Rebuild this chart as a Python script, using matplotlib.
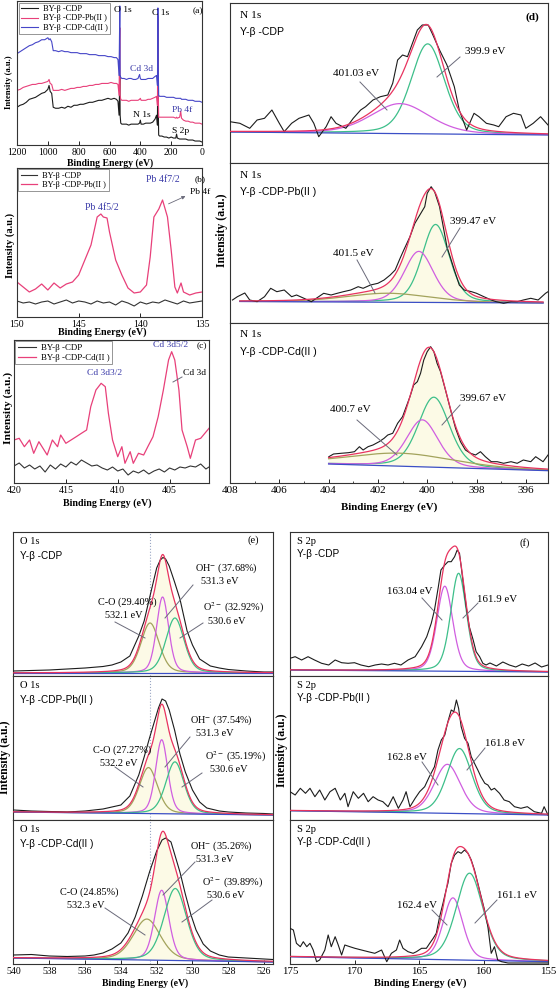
import numpy as np
import matplotlib
matplotlib.use('Agg')
import matplotlib.pyplot as plt
from matplotlib.lines import Line2D

plt.rcParams['font.family'] = ['Liberation Serif', 'DejaVu Serif']
plt.rcParams['mathtext.fontset'] = 'stix'

# ------------------------------------------------------------------ data
# (a) survey spectra
surv_E = [1200,1180,1160,1140,1120,1100,1080,1060,1040,1020,1000,992,985,975,965,
          950,930,910,890,870,850,830,810,790,770,750,730,710,690,670,650,630,610,590,570,
          555,545,538,533,531,527,520,505,490,475,460,445,430,415,405,400,395,
          380,365,350,335,320,305,295,289,286,284,281,275,260,245,230,215,200,185,170,
          165,160,145,138,133,120,105,90,75,60,45,30,15,0]
surv_cdp = [38,40,41,43,46,47,48,50,52,53,56,60,54,52,38,
            37,37,38,37,39,38,40,40,41,41,42,43,43,44,45,45,46,47,46,47,
            46,44,30,70,30,22,21,21,21,20,21,21,21,21,22,25,21,
            21,22,22,22,23,26,30,20,125,40,10,9,9,8,8,7,8,7,7,
            11,7,6,6,6,6,6,5,5,5,4,4,4,3]
surv_pb = [55,56,58,59,60,61,61,62,62,63,64,66,62,61,55,
           55,55,56,55,56,57,57,58,58,59,59,60,60,61,61,62,62,62,63,62,
           62,61,50,118,50,46,45,45,45,44,45,45,45,45,46,47,45,
           45,45,46,46,47,48,49,40,130,55,28,28,28,28,28,28,28,28,27,
           28,27,28,34,27,25,24,24,23,23,22,22,22,21]
surv_cd = [92,94,96,98,100,101,103,104,106,106,108,106,107,104,95,
           95,94,95,94,94,93,93,93,92,92,92,91,91,91,90,90,90,89,89,88,
           88,86,70,140,70,68,67,67,66,67,67,66,66,67,71,67,66,
           66,66,67,67,67,69,70,60,138,80,50,49,49,49,48,48,48,48,47,
           47,47,47,47,46,46,46,45,45,45,44,44,44,43]
surv_labels = ['BY-β -CDP', 'BY-β -CDP-Pb(II )', 'BY-β -CDP-Cd(II )']

# (b) Pb 4f
pb_ref_E = [150,149.5,149,148.5,148,147.5,147,146.5,146,145.5,145,144.5,144,143.5,143,142.5,
            142,141.5,141,140.5,140,139.5,139,138.5,138,137.5,137,136.5,136,135.5,135]
pb_ref_I = [16,14,15,13,15,16,13,15,17,14,16,15,13,16,14,15,12,16,14,11,15,13,15,14,17,15,13,16,14,15,16]
pb_E = [150,149.5,149,148.5,148,147.5,147,146.5,146,145.5,145,144.5,144,143.5,143.2,143.0,142.7,
        142.5,142,141.5,141,140.5,140,139.5,139.2,138.9,138.7,138.5,138.2,137.8,137.5,137.2,137,
        136.7,136.5,136,135.5,135]
pb_I = [35,30,25,28,33,27,34,29,33,35,42,57,72,100,103,100,99,85,57,42,29,24,25,32,60,100,104,108,
        117,100,67,30,24,34,25,22,24,25]

# (c) Cd 3d
cd_ref_E = [420,419.5,419,418.5,418,417.5,417,416.5,416,415.5,415,414.5,414,413.5,413,412.5,412,
            411.5,411,410.5,410,409.5,409,408.5,408,407.5,407,406.5,406,405.5,405,404.5,404,
            403.5,403,402.5,402,401.5,401.2]
cd_ref_I = [17,20,15,18,14,17,11,18,14,19,16,21,18,23,20,17,18,15,13,16,12,14,8,12,10,13,9,12,
            14,11,15,13,16,15,17,16,19,14,16]
cd_E = [420.0,419.5,419.0,418.5,418.1,417.6,417.1,416.8,416.3,415.8,415.5,415.0,414.5,414.0,413.5,
        413.0,412.6,412.1,411.6,411.2,410.9,410.5,410.0,409.6,409.3,408.8,408.5,408.0,407.5,407.1,
        406.6,406.1,405.6,405.1,404.8,404.5,404.1,403.8,403.3,403.0,402.5,402.0,401.6,401.2]
cd_I = [43,44.7,36.3,43,29.7,41.3,33,28,43,36.3,48,39.7,43,46.3,49.7,53,76.3,93,99.7,96.3,69.7,
        43,26.3,36.3,19.7,31.3,19.7,29.7,28,36.3,46.3,66.3,93,123,131.3,123,93,53,36.3,24.7,43,
        44.7,49.7,54.7]

# (d) N 1s raw spectra
n1_E = [408.0,407.6,407.2,406.9,406.6,406.3,406.0,405.8,405.5,405.2,404.8,404.6,404.4,404.1,403.9,
        403.7,403.3,403.0,402.7,402.5,402.2,401.9,401.6,401.4,401.2,401.0,400.8,400.6,400.4,400.2,
        399.96,399.8,399.5,399.2,398.9,398.7,398.4,398.1,397.9,397.6,397.3,397.1,396.8,396.5,396.2,
        396.0,395.7,395.4,395.1]
n1_I = [41.3,39.7,34.7,43,44.7,53,39.7,31.3,39.7,44.7,48,39.7,26.3,36.3,46.3,39.7,34.7,44.7,53,
        56.3,63,66.3,68,79.7,103,108,106.3,119.7,133,138,138,129.7,113,98,76.3,53,33,49.7,46.3,
        39.7,38,36.3,46.3,49.7,48,34.7,39.7,46.3,38]
n2_E = [407.9,407.7,407.4,407.2,406.9,406.6,406.35,406.1,405.8,405.5,405.3,405.0,404.7,404.5,404.2,
        403.9,403.65,403.4,403.1,402.8,402.6,402.3,402.0,401.75,401.5,401.3,401.1,400.95,400.7,
        400.5,400.3,400.1,400.0,399.84,399.7,399.5,399.4,399.2,398.9,398.7,398.5,398.2,398.0,397.7,
        397.4,397.2,396.9,396.6,396.35,396.1,395.8,395.5,395.2,395.1]
n2_I = [23,26.3,30,23,21.3,26.3,34.7,31.3,33,26.3,28,24.7,21.3,24.7,29.7,28,29.7,31.3,33,36.3,34.7,
        38,39.7,43,48,53,64.7,73,86.3,99.7,108,116.3,129.7,136.3,131.3,116.3,103,76.3,53,38,33,
        31.3,29.7,26.3,23,21.3,19.7,21.3,21.3,23,24.7,23,29.7,31.3]
n3_E = [403.99,403.8,403.5,403.2,402.95,402.75,402.6,402.4,402.2,401.95,401.75,401.6,401.4,401.2,
        401.0,400.9,400.7,400.55,400.4,400.27,400.14,400.0,399.86,399.73,399.6,399.46,399.26,399.05,
        398.85,398.65,398.45,398.24,398.04,397.84,397.64,397.4,397.16,396.9,396.6,396.35,396.1,
        395.8,395.6,395.3,395.1]
n3_I = [26.3,29,29.7,30.3,31.3,36.3,33,36.3,38,41.3,44.7,48,49.7,59.7,66.3,73,86.3,98,101.3,109.7,
        123,131.3,136.3,131.3,119.7,111.3,93,73,54.7,41.3,33,29.7,28,31.3,26.3,21.3,21.3,19.7,
        21.3,19.7,23,21.3,26.3,21.3,28]
n_raw = [(n1_E, n1_I), (n2_E, n2_I), (n3_E, n3_I)]
n_titles = ['Y-β -CDP', 'Y-β -CDP-Pb(II )', 'Y-β -CDP-Cd(II )']
# fitted components: linear background end points, peak centre / height / FWHM
n_base_E = [[408.0, 395.1], [407.6, 395.3], [404.0, 395.07]]
n_base_I = [[31.0, 28.0], [21.5, 20.0], [19.0, 12.3]]
n_centre = [[399.98, 401.1], [399.66, 400.34, 401.6], [399.73, 400.2, 401.1]]
n_height = [[90, 30], [78, 51, 9], [70, 47, 13]]
n_fwhm = [[1.6, 2.8], [1.3, 1.4, 4.0], [1.5, 1.5, 5.0]]
n_peak_labels = [['399.9 eV', '401.03 eV'], ['399.47 eV', '401.5 eV'], ['399.67 eV', '400.7 eV']]

# (e) O 1s raw spectra
o1_E = [540,539,538,537,536,535,534.5,534,533.5,533,532.7,532.4,532.0,531.8,531.65,531.5,531.3,
        531.0,530.7,530.3,530.0,529.6,529.0,528.5,528.0,527.0,526.0,525.5]
o1_I = [5,5.5,6,7,8,9.5,11,14,20,40,55,78,108,116,118.5,117,110,94,77,45,31,17,10,8,6.5,5,4,4]
o2_E = [540,539,538,537,536,535,534.5,534,533.5,533,532.7,532.4,532.1,531.9,531.7,531.5,531.3,
        531.0,530.7,530.4,530.0,529.6,529.2,528.5,528.0,527.0,526.0,525.5]
o2_I = [10,9,8.5,8,9,11,13,15,24,45,63,82,100,112,121,119,110,90,66,48,30,18,12,9,8,7,6.5,6]
o3_E = [540,539,538,537,536,535.5,535,534.5,534,533.6,533.2,532.8,532.4,532.0,531.7,531.5,531.2,
        531.0,530.7,530.4,530.1,529.8,529.4,529.0,528.5,528.0,527.0,526.0,525.5]
o3_I = [9,9.5,8,7.5,8,9,11,15,21,31,47,68,92,113,124,126,122,110,92,70,50,34,20,13,9,7,6,5,4.5]
o_raw = [(o1_E, o1_I), (o2_E, o2_I), (o3_E, o3_I)]
o_titles = ['Y-β -CDP', 'Y-β -CDP-Pb(II )', 'Y-β -CDP-Cd(II )']
o_base_E = [[540, 525.5], [540, 525.5], [540, 525.5]]
o_base_I = [[3.0, 3.0], [8.0, 5.0], [6.0, 2.0]]
# order: C-O, OH-, O2-
o_centre = [[532.37, 531.67, 530.98], [532.46, 531.72, 530.98], [532.55, 531.72, 530.96]]
o_height = [[50, 76, 55], [46, 74, 52], [41, 70, 72]]
o_fwhm = [[1.2, 0.8, 1.2], [1.2, 0.8, 1.2], [1.8, 0.95, 1.5]]
o_pct = [['29.40%', '37.68%', '32.92%'], ['27.27%', '37.54%', '35.19%'], ['24.85%', '35.26%', '39.89%']]
o_ev = [['532.1 eV', '531.3 eV', '530.6 eV'], ['532.2 eV', '531.3 eV', '530.6 eV'],
        ['532.3 eV', '531.3 eV', '530.6 eV']]
o_marker = 532.35

# (f) S 2p raw spectra
s1_E = [175.0,174.6,174.1,173.6,173.1,172.55,172.0,171.5,171.0,170.5,170.0,169.5,168.9,168.4,
        167.9,167.4,166.9,166.4,165.85,165.3,164.8,164.4,164.05,163.8,163.5,163.3,163.0,162.75,
        162.5,162.24,162.04,161.86,161.6,161.34,161.1,160.8,160.57,160.3,160.05,159.8,159.5,159.0,
        158.5,158.0,157.5,157.0,156.5,156.0,155.5,155.0]
s1_I = [17.7,19.3,16,19.3,16,12.7,11,16,13.3,12.7,13.3,11,9.3,11,12,11,12.7,11,16,19.3,29.3,39.3,
        52.7,66,89.3,106,111,114.3,114.3,119.3,126,122.7,96,69.3,49.3,36,24.3,19.3,12.7,11,13,10,
        14,11,9,12,10,13,9,11]
s2_E = [175.0,174.6,174.2,173.8,173.45,173.07,172.7,172.3,171.9,171.5,171.1,170.75,170.5,170.1,
        169.7,169.3,168.94,168.56,168.17,167.8,167.4,167.0,166.6,166.24,166.0,165.7,165.3,164.95,
        164.56,164.2,163.8,163.53,163.27,163.0,162.76,162.5,162.3,162.1,161.93,161.73,161.47,
        161.2,160.95,160.7,160.44,160.2,159.9,159.66,159.4,159.15,158.76,158.4,158.0,157.6,157.1,
        156.6,156.06,155.5,155.3,155.0]
s2_I = [28.3,25,31.7,26.7,31.7,23.3,30,20,28.3,31.7,20,26.7,13.3,28.3,21.7,26.7,18.3,23.3,20,18.3,
        13.3,23.3,11.7,20,28.3,13.3,21.7,28.3,33.3,43.3,53.3,70,80,85,98.3,110,108.3,120,111.7,
        93.3,81.7,76.7,63.3,56.7,50,43.3,36.7,35,30,31.7,26.7,20,18.3,13.3,11.7,13.3,8.3,6.7,
        13.3,5]
s3_E = [175.0,174.74,174.5,174.2,173.97,173.7,173.45,173.2,172.94,172.7,172.3,172.04,171.8,171.5,
        171.26,171.0,170.75,170.36,169.97,169.46,168.94,168.43,167.9,167.5,167.14,166.75,166.5,
        166.24,165.85,165.46,165.2,164.8,164.43,164.17,163.9,163.66,163.4,163.14,162.9,162.76,
        162.5,162.24,161.98,161.73,161.47,161.2,160.95,160.7,160.44,160.18,159.92,159.66,159.4,
        159.15,158.9,158.6,158.1,157.6,156.8,155.8,155.0]
s3_I = [35.7,34,20.7,17.3,22.3,17.3,20.7,14,2.3,4,14,29,17.3,27.3,19,9,19,17.3,15.7,14,12.3,10.7,
        14,2.3,10.7,14,24,15.7,12.3,10.7,12.3,15.7,15.7,20.7,25.7,30.7,47.3,60.7,74,80.7,100.7,
        109,112.3,110.7,114,110.7,104,94,80.7,67.3,54,37.3,10.7,17.3,4,2.3,1,1,1,1,1]
s_raw = [(s1_E, s1_I), (s2_E, s2_I), (s3_E, s3_I)]
s_titles = ['Y-β -CDP', 'Y-β -CDP-Pb(II )', 'Y-β -CDP-Cd(II )']
s_base_E = [[175, 155], [175, 155], [175, 155]]
s_base_I = [[6.0, 4.0], [9.3, 5.0], [7.3, 2.3]]
# order: higher BE (magenta), lower BE (green)
s_centre = [[163.0, 161.93], [162.8, 161.86], [162.37, 161.08]]
s_height = [[85, 98], [49, 65], [62, 87]]
s_fwhm = [[1.45, 1.45], [2.4, 2.3], [1.8, 2.45]]
s_peak_labels = [['163.04 eV', '161.9 eV'], ['162.8 eV', '161.8 eV'], ['162.4 eV', '161.1 eV']]

# ------------------------------------------------------------------ styling
W, H = 557, 994
fig = plt.figure(figsize=(W / 100, H / 100), dpi=100)

C_RAW = '#1c1c1c'
C_RED = '#e8335f'
C_PINK = '#e8407a'
C_BLUE = '#4646c8'
C_GRN = '#3dbf8a'
C_MAG = '#d05ee0'
C_OLV = '#a3a35c'
C_BASE = '#3b4fc6'
C_FILL = '#fcfae6'
C_LEAD = '#6a6a7a'
C_LBL = '#3a3aa8'
SANS = ['Liberation Sans', 'DejaVu Sans']


def add_ax(x0, y0, x1, y1):
    return fig.add_axes([x0 / W, 1 - y1 / H, (x1 - x0) / W, (y1 - y0) / H])


def ftext(x, y, s, size=7.5, ha='left', va='center', **kw):
    fig.text(x / W, 1 - y / H, s, fontsize=size, ha=ha, va=va, **kw)


def fline(x1, y1, x2, y2, color=C_LEAD, lw=0.7):
    fig.add_artist(Line2D([x1 / W, x2 / W], [1 - y1 / H, 1 - y2 / H],
                          transform=fig.transFigure, color=color, lw=lw))


def style(ax, xlim, ylim, ticks=None, show_labels=True, tsize=7, minor=None):
    ax.set_xlim(*xlim)
    ax.set_ylim(*ylim)
    ax.set_yticks([])
    for s in ax.spines.values():
        s.set_linewidth(0.8)
        s.set_color('#333333')
    if ticks is not None:
        ax.set_xticks(ticks)
        if minor is not None:
            ax.set_xticks(minor, minor=True)
    ax.tick_params(axis='x', direction='in', length=3, width=0.6, labelsize=tsize, pad=2,
                   labelbottom=show_labels)
    ax.tick_params(axis='x', which='minor', direction='in', length=1.8, width=0.5)
    if not show_labels:
        ax.tick_params(axis='x', which='both', length=0)


def pvoigt(x, c, h, w, eta=0.3):
    u = (x - c) / w
    return h * (eta / (1 + 4 * u ** 2) + (1 - eta) * np.exp(-4 * np.log(2) * u ** 2))


def draw_fit(ax, raw, bE, bI, centres, heights, fwhms, colors, fill=False):
    lo, hi = min(bE), max(bE)
    x = np.linspace(hi, lo, 600)
    base = np.interp(x, [lo, hi], [bI[1], bI[0]])
    total = base.copy()
    comps = []
    for c, h, w in zip(centres, heights, fwhms):
        p = pvoigt(x, c, h, w)
        comps.append(p)
        total = total + p
    if fill:
        ax.fill_between(x, base, total, color=C_FILL, lw=0, zorder=1)
    for p, col in zip(comps, colors):
        ax.plot(x, base + p, color=col, lw=0.9, zorder=2)
    ax.plot(bE, bI, color=C_BASE, lw=0.9, zorder=2)
    ax.plot(raw[0], raw[1], color=C_RAW, lw=0.8, zorder=3)
    ax.plot(x, total, color=C_RED, lw=0.9, zorder=4)


# ------------------------------------------------------------------ (a)
ax = add_ax(17, 1, 202, 145)
for y, col, lab in zip([surv_cdp, surv_pb, surv_cd], [C_RAW, C_PINK, C_BLUE], surv_labels):
    ax.plot(surv_E, y, color=col, lw=0.8, label=lab)
style(ax, (1200, 0), (0, 145), ticks=[1200, 1000, 800, 600, 400, 200, 0], tsize=7)
leg = ax.legend(loc='upper left', bbox_to_anchor=(0, 1), borderaxespad=0.2, fontsize=6,
                frameon=True, fancybox=False, edgecolor='#666666', handlelength=2.0,
                borderpad=0.3, labelspacing=0.15, handletextpad=0.6)
leg.get_frame().set_linewidth(0.6)
ftext(114, 10, 'O 1s', size=6.8)
ftext(152, 13, 'C 1s', size=6.8)
ftext(130, 69, 'Cd 3d', size=6.8, color=C_LBL)
ftext(133, 115, 'N 1s', size=6.8)
ftext(172, 110, 'Pb 4f', size=6.8, color=C_LBL)
ftext(172, 131, 'S 2p', size=6.8)
ftext(193, 11, '(a)', size=6.8)
ftext(110, 163, 'Binding Energy (eV)', size=7, ha='center', fontweight='bold')
ftext(9, 82, 'Intensity (a.u.)', size=6.2, ha='center', rotation=90, fontweight='bold')

# ------------------------------------------------------------------ (b)
ax = add_ax(17, 168, 202, 317)
ax.plot(pb_ref_E, pb_ref_I, color='#333333', lw=0.8, label=surv_labels[0])
ax.plot(pb_E, pb_I, color=C_PINK, lw=0.9, label=surv_labels[1])
style(ax, (150, 135), (0, 149), ticks=[150, 145, 140, 135], tsize=7)
leg = ax.legend(loc='upper left', bbox_to_anchor=(0, 1), borderaxespad=0.15, fontsize=6,
                frameon=True, fancybox=False, edgecolor='#666666', handlelength=2.0,
                borderpad=0.3, labelspacing=0.15, handletextpad=0.6)
leg.get_frame().set_linewidth(0.6)
ftext(85, 208, 'Pb 4f5/2', size=7, color=C_LBL)
ftext(146, 180, 'Pb 4f7/2', size=7, color=C_LBL)
ftext(190, 192, 'Pb 4f', size=6.8)
fig.add_artist(matplotlib.patches.FancyArrowPatch((166 / W, 1 - 205 / H), (188 / W, 1 - 195 / H),
                                                  transform=fig.transFigure, arrowstyle='-|>',
                                                  mutation_scale=5, color=C_LEAD, lw=0.6))
ftext(195, 179, '(b)', size=6.8)
ftext(102, 332, 'Binding Energy (eV)', size=7.2, ha='center', fontweight='bold')
ftext(10, 245, 'Intensity (a.u.)', size=7.5, ha='center', rotation=90, fontweight='bold')

# ------------------------------------------------------------------ (c)
ax = add_ax(14, 340, 209, 483)
ax.plot(cd_ref_E, cd_ref_I, color='#333333', lw=0.8, label=surv_labels[0])
ax.plot(cd_E, cd_I, color=C_PINK, lw=0.9, label=surv_labels[2])
style(ax, (420, 401.2), (0, 143), ticks=[420, 415, 410, 405], tsize=7.2)
leg = ax.legend(loc='upper left', bbox_to_anchor=(0, 1), borderaxespad=0.15, fontsize=6.4,
                frameon=True, fancybox=False, edgecolor='#666666', handlelength=2.0,
                borderpad=0.3, labelspacing=0.15, handletextpad=0.6)
leg.get_frame().set_linewidth(0.6)
ftext(87, 373, 'Cd 3d3/2', size=6.8, color=C_LBL)
ftext(153, 345, 'Cd 3d5/2', size=6.8, color=C_LBL)
ftext(183, 373, 'Cd 3d', size=6.8)
fline(173, 382, 182, 377)
ftext(197, 346, '(c)', size=6.8)
ftext(107, 503, 'Binding Energy (eV)', size=7.2, ha='center', fontweight='bold')
ftext(8, 408, 'Intensity (a.u.)', size=8.2, ha='center', rotation=90, fontweight='bold')

# ------------------------------------------------------------------ (d)
d_bounds = [(3, 163), (163, 323), (323, 483)]
d_cols = [[C_GRN, C_MAG], [C_GRN, C_MAG, C_OLV], [C_GRN, C_MAG, C_OLV]]
for i, (y0, y1) in enumerate(d_bounds):
    ax = add_ax(230, y0, 548, y1)
    draw_fit(ax, n_raw[i], n_base_E[i], n_base_I[i], n_centre[i], n_height[i], n_fwhm[i],
             d_cols[i], fill=(i > 0))
    style(ax, (408, 395.1), (0, 160), ticks=[408, 406, 404, 402, 400, 398, 396],
          show_labels=(i == 2), tsize=8, minor=[407, 405, 403, 401, 399, 397])
    ftext(240, y0 + 12, 'N 1s', size=8.2)
    ftext(240, y0 + 29, n_titles[i], size=7.6, family=SANS)
ftext(525, 17, '(d)', size=8, fontweight='bold')
# peak labels and leader lines
ftext(465, 52, n_peak_labels[0][0], size=8)
fline(460, 57, 437, 77)
ftext(333, 73, n_peak_labels[0][1], size=8)
fline(360, 82, 387, 110)
ftext(450, 222, n_peak_labels[1][0], size=8)
fline(460, 228, 442, 257)
ftext(333, 253, n_peak_labels[1][1], size=8)
fline(357, 260, 375, 293)
ftext(460, 398, n_peak_labels[2][0], size=8)
fline(460, 405, 442, 425)
ftext(330, 410, n_peak_labels[2][1], size=8)
fline(357, 420, 397, 455)
ftext(389, 507, 'Binding Energy (eV)', size=7.8, ha='center', fontweight='bold')
ftext(222, 230, 'Intensity (a.u.)', size=8.5, ha='center', rotation=90, fontweight='bold')

# ------------------------------------------------------------------ (e)
e_bounds = [(532, 676), (676, 820), (820, 964)]
for i, (y0, y1) in enumerate(e_bounds):
    ax = add_ax(13.5, y0, 273, y1)
    ax.axvline(o_marker, color='#9aa6c4', lw=0.8, ls=':', zorder=0)
    draw_fit(ax, o_raw[i], o_base_E[i], o_base_I[i], o_centre[i], o_height[i], o_fwhm[i],
             [C_OLV, C_MAG, C_GRN], fill=True)
    style(ax, (540, 525.5), (0, 144), ticks=list(range(540, 525, -2)),
          show_labels=(i == 2), tsize=7)
    ftext(20, y0 + 10, 'O 1s', size=7.6)
    ftext(20, y0 + 24, o_titles[i], size=7.2, family=SANS)
ftext(247, 540, '(e)', size=7.6)
e_lab = [  # (x, y) pixel anchors of label blocks: C-O, OH-, O2-
    [(98, 602), (195, 568), (203, 608)],
    [(93, 750), (190, 720), (205, 757)],
    [(60, 892), (190, 846), (202, 883)],
]
e_lead = [
    [(115, 622, 145, 638), (193, 585, 165, 618), (203, 623, 180, 638)],
    [(115, 767, 143, 787), (190, 737, 165, 767), (202, 773, 182, 787)],
    [(105, 908, 145, 935), (195, 862, 163, 895), (212, 900, 182, 922)],
]
for i in range(3):
    (cx, cy), (hx, hy), (ox, oy) = e_lab[i]
    ftext(cx, cy, 'C-O (' + o_pct[i][0] + ')', size=7.4)
    ftext(cx + 7, cy + 14, o_ev[i][0], size=7.4)
    ftext(hx, hy, 'OH$^{-}$ (' + o_pct[i][1] + ')', size=7.4)
    ftext(hx + 6, hy + 14, o_ev[i][1], size=7.4)
    ftext(ox, oy, 'O$^{2-}$ (' + o_pct[i][2] + ')', size=7.4)
    ftext(ox + 5, oy + 13, o_ev[i][2], size=7.4)
    for (a, b, c, d) in e_lead[i]:
        fline(a, b, c, d)
ftext(145, 983, 'Binding Energy (eV)', size=7, ha='center', fontweight='bold')
ftext(5, 757, 'Intensity (a.u.)', size=8.5, ha='center', rotation=90, fontweight='bold')

# ------------------------------------------------------------------ (f)
for i, (y0, y1) in enumerate(e_bounds):
    ax = add_ax(290, y0, 548, y1)
    draw_fit(ax, s_raw[i], s_base_E[i], s_base_I[i], s_centre[i], s_height[i], s_fwhm[i],
             [C_MAG, C_GRN], fill=False)
    style(ax, (175, 155), (0, 144), ticks=[175, 170, 165, 160, 155],
          show_labels=(i == 2), tsize=7.8)
    ftext(297, y0 + 9, 'S 2p', size=7.6)
    ftext(297, y0 + 22, s_titles[i], size=7.2, family=SANS)
ftext(519, 543, '(f)', size=7.6)
ftext(387, 591, s_peak_labels[0][0], size=7.8)
fline(422, 598, 442, 620)
ftext(477, 599, s_peak_labels[0][1], size=7.8)
fline(478, 603, 463, 618)
ftext(387, 757, s_peak_labels[1][0], size=7.8)
fline(422, 762, 438, 785)
ftext(485, 743, s_peak_labels[1][1], size=7.8)
fline(485, 748, 467, 770)
ftext(397, 905, s_peak_labels[2][0], size=7.8)
fline(432, 910, 447, 925)
ftext(497, 895, s_peak_labels[2][1], size=7.8)
fline(497, 900, 475, 923)
ftext(420, 983, 'Binding Energy (eV)', size=7.6, ha='center', fontweight='bold')
ftext(282, 750, 'Intensity (a.u.)', size=8.5, ha='center', rotation=90, fontweight='bold')

fig.savefig('out.png', dpi=100)
